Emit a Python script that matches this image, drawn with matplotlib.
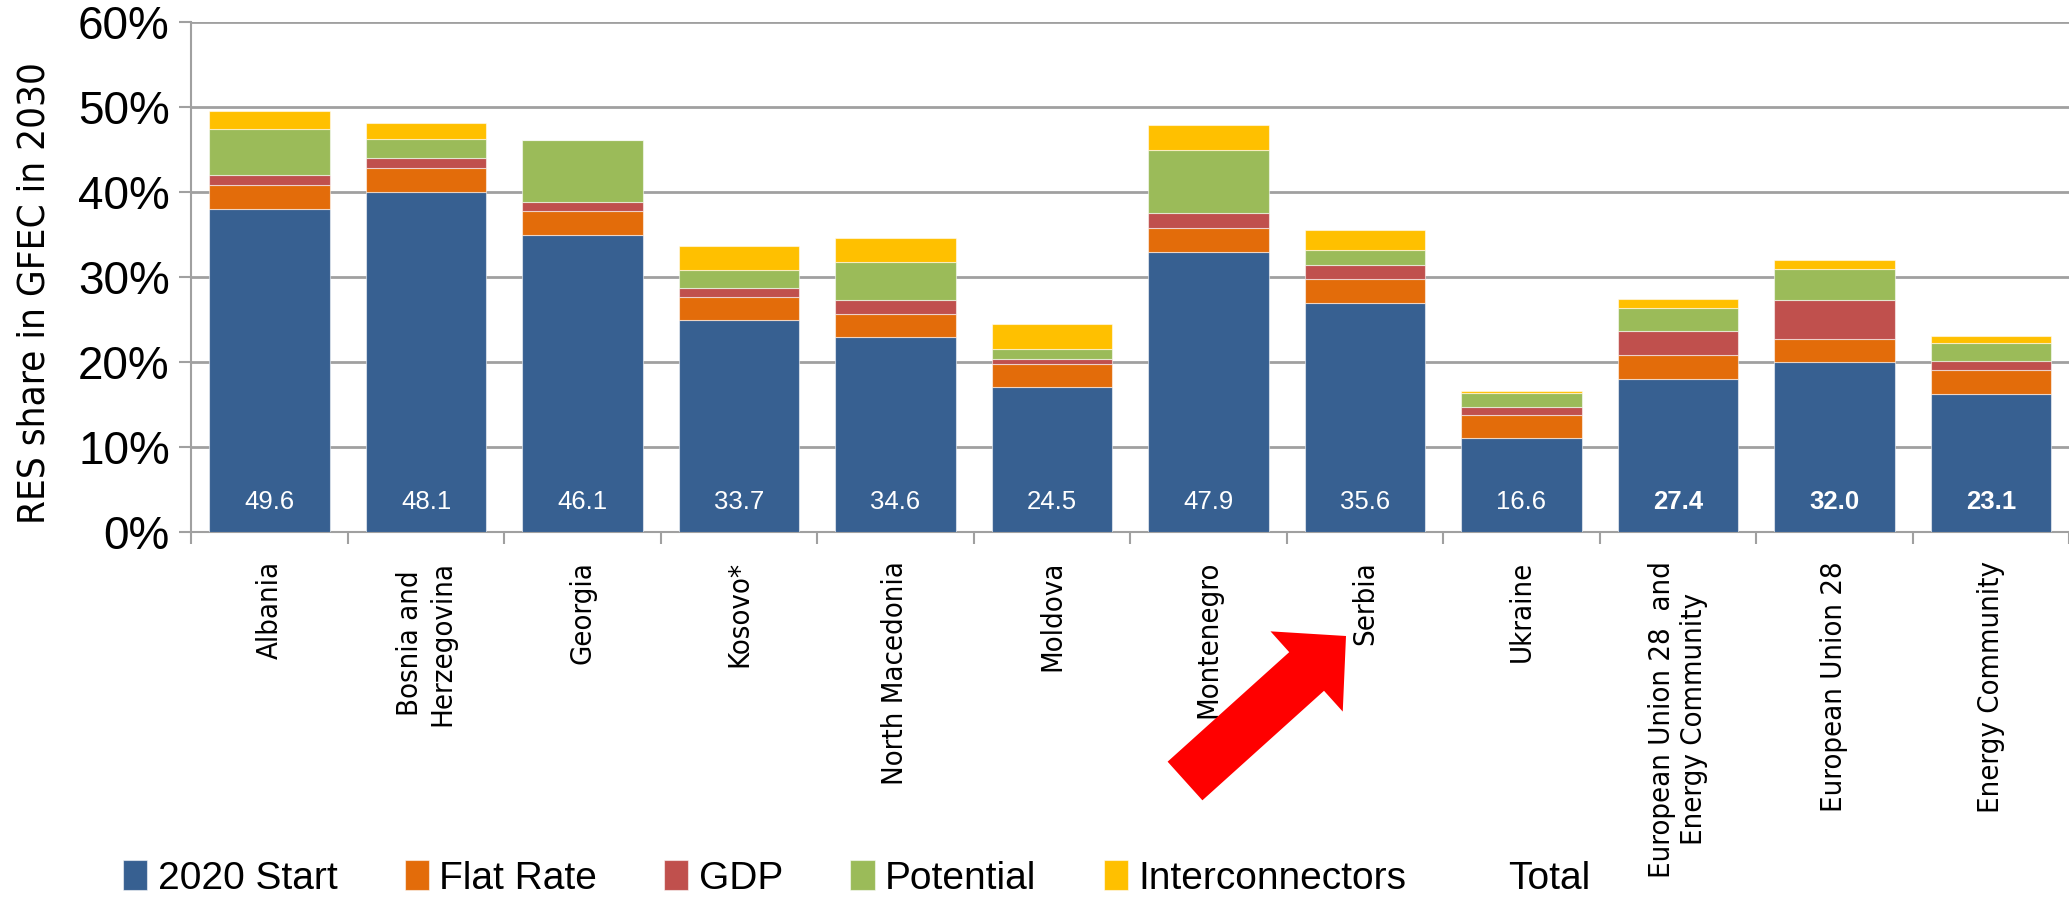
import numpy as np
import matplotlib
matplotlib.use('Agg')
import matplotlib.pyplot as plt
from matplotlib import font_manager
from matplotlib.font_manager import FontProperties
from matplotlib.patches import Patch, Polygon
from matplotlib.ticker import FixedLocator, PercentFormatter

### data (percent)
categories = ['Albania', 'Bosnia and\nHerzegovina', 'Georgia', 'Kosovo*',
              'North Macedonia', 'Moldova', 'Montenegro', 'Serbia', 'Ukraine',
              'European Union 28  and\nEnergy Community', 'European Union 28',
              'Energy Community']
start_2020     = [38.0, 40.0, 35.0, 25.0, 23.0, 17.0, 33.0, 27.0, 11.0, 18.0, 20.0, 16.2]
flat_rate      = [2.8, 2.8, 2.8, 2.7, 2.7, 2.8, 2.8, 2.8, 2.7, 2.8, 2.7, 2.9]
gdp            = [1.2, 1.2, 1.0, 1.0, 1.6, 0.5, 1.8, 1.6, 1.0, 2.8, 4.6, 1.0]
potential      = [5.4, 2.3, 7.3, 2.1, 4.5, 1.2, 7.4, 1.8, 1.6, 2.7, 3.6, 2.1]
interconnect   = [2.2, 1.8, 0.0, 2.9, 2.8, 3.0, 2.9, 2.4, 0.3, 1.1, 1.1, 0.9]
totals         = [49.6, 48.1, 46.1, 33.7, 34.6, 24.5, 47.9, 35.6, 16.6, 27.4, 32.0, 23.1]
bold_totals    = [False] * 9 + [True] * 3

series_names  = ['2020 Start', 'Flat Rate', 'GDP', 'Potential', 'Interconnectors']
series_values = [start_2020, flat_rate, gdp, potential, interconnect]
series_colors = ['#376091', '#E36C0A', '#C0504D', '#9BBB59', '#FFC000']

### fonts: calibri-ish text -> Liberation Sans; verdana-ish text -> DejaVu Sans (condensed if present)
sans = 'Liberation Sans'
cond = [f for f in font_manager.fontManager.ttflist
        if f.name == 'DejaVu Sans' and f.stretch == 'condensed'
        and f.style == 'normal' and f.weight in (400, 'normal')]
if cond:
    vfont = FontProperties(fname=cond[0].fname)
    vscale = 1.2
else:
    vfont = FontProperties(family='DejaVu Sans')
    vscale = 1.0

### figure
W, H = 2069, 916
fig = plt.figure(figsize=(W / 100, H / 100), dpi=100)
ax = fig.add_axes([0.0925, 0.4195, 0.9075, 0.556])

x = np.arange(len(categories))
bottom = np.zeros(len(categories))
for name, vals, col in zip(series_names, series_values, series_colors):
    vals = np.array(vals)
    ax.bar(x, vals, width=0.77, bottom=bottom, color=col, label=name,
           edgecolor=(1, 1, 1, 0.55), linewidth=0.8, zorder=3)
    bottom += vals

### value labels at the foot of each bar
for xi, tot, b in zip(x, totals, bold_totals):
    ax.text(xi, 3.5, '%.1f' % tot, ha='center', va='center', color='white',
            fontsize=18.5, family=sans, fontweight='bold' if b else 'normal',
            zorder=4)

### axes styling
grey = '#A0A0A0'
ax.set_xlim(-0.5, len(categories) - 0.5)
ax.set_ylim(0, 60)
ax.yaxis.set_major_locator(FixedLocator(np.arange(0, 61, 10)))
ax.yaxis.set_major_formatter(PercentFormatter(decimals=0))
ax.grid(axis='y', color=grey, linewidth=2.0, zorder=0)
ax.set_axisbelow(True)
for s in ['top', 'right']:
    ax.spines[s].set_visible(False)
for s in ['left', 'bottom']:
    ax.spines[s].set_color(grey)
    ax.spines[s].set_linewidth(1.5)

ax.set_xticks(x)
ax.set_xticklabels(categories, rotation=90, va='top', ha='center',
                   multialignment='center')
for lab in ax.get_xticklabels():
    lab.set_fontproperties(vfont)
    lab.set_fontsize(17.5 * vscale)
ax.set_xticks(np.arange(-0.5, len(categories), 1.0), minor=True)
ax.tick_params(axis='x', which='major', length=0, pad=21)
ax.tick_params(axis='x', which='minor', length=8.5, width=1.5, color=grey)
ax.tick_params(axis='y', length=8.5, width=1.5, color=grey, pad=7,
               labelsize=33)
for lab in ax.get_yticklabels():
    lab.set_family(sans)

ylab = fig.text(0.0166, 0.68, 'RES share in GFEC in 2030', rotation=90,
                ha='center', va='center')
ylab.set_fontproperties(vfont)
ylab.set_fontsize(23 * vscale)

### legend with an empty 'Total' entry
handles, labels = ax.get_legend_handles_labels()
handles.append(Patch(facecolor='none', edgecolor='none'))
labels.append('Total')
fig.legend(handles, labels, loc='lower left', bbox_to_anchor=(0.050, 0.0),
           ncol=6, frameon=False, borderpad=0, handlelength=0.62,
           handleheight=0.78, handletextpad=0.27, columnspacing=1.73,
           prop={'family': sans, 'size': 28})

### red block arrow pointing at Serbia (pixel geometry -> figure fraction)
tail = np.array([1185.0, 781.0])
tip = np.array([1346.0, 636.0])
shaft_w, head_w, head_l = 52.0, 108.0, 53.0
u = (tip - tail) / np.linalg.norm(tip - tail)
n = np.array([-u[1], u[0]])
neck = tip - u * head_l
pts = [tail + n * shaft_w / 2, neck + n * shaft_w / 2, neck + n * head_w / 2,
       tip, neck - n * head_w / 2, neck - n * shaft_w / 2, tail - n * shaft_w / 2]
pts = [(p[0] / W, 1 - p[1] / H) for p in pts]
fig.add_artist(Polygon(pts, closed=True, facecolor='#FF0000', edgecolor='none',
                       transform=fig.transFigure, zorder=10))

plt.savefig('out.png', dpi=100)
